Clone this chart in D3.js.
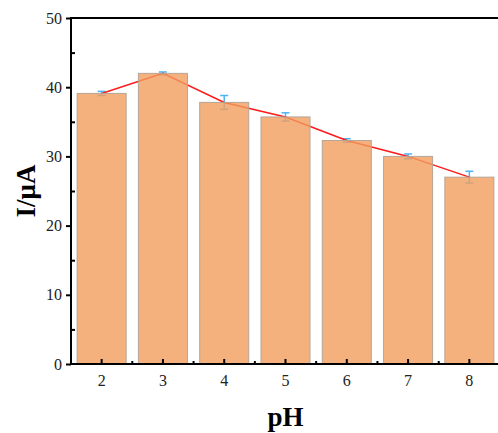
<!DOCTYPE html>
<html><head><meta charset="utf-8">
<script src="https://cdn.jsdelivr.net/npm/d3@7"></script>
<style>body{margin:0;background:#fff}svg{display:block}</style>
</head><body>
<svg id="c" width="498" height="433"></svg>
<script>
const categories = ["2","3","4","5","6","7","8"];
const values = [39.1, 42.0, 37.8, 35.7, 32.3, 30.0, 27.0];
const errors = [0.3, 0.2, 1.0, 0.6, 0.25, 0.35, 0.85];
const yTicks = [0,10,20,30,40,50];

const svg = d3.select("#c");
const m = {l:71, r:500, t:18, b:364};
const x = d3.scaleBand().domain(categories).range([m.l, m.r]).paddingInner(0.2).paddingOuter(0.1);
const xc = d => x(d) + x.bandwidth()/2;
const y = d3.scaleLinear().domain([0,50]).range([m.b, m.t]);
const font = "'Liberation Serif','Times New Roman',serif";

// error bars (drawn beneath bars)
const eb = svg.append("g").attr("stroke","#4db3f5").attr("stroke-width",1.5);
categories.forEach((c,i)=>{
  const cx = xc(c);
  eb.append("line").attr("x1",cx).attr("x2",cx).attr("y1",y(values[i]+errors[i])).attr("y2",y(values[i]-errors[i]));
  eb.append("line").attr("x1",cx-4).attr("x2",cx+4).attr("y1",y(values[i]+errors[i])).attr("y2",y(values[i]+errors[i]));
  eb.append("line").attr("x1",cx-4).attr("x2",cx+4).attr("y1",y(values[i]-errors[i])).attr("y2",y(values[i]-errors[i]));
});
// line
svg.append("path").datum(values)
  .attr("fill","none").attr("stroke","#ff1a1a").attr("stroke-width",1.5)
  .attr("d", d3.line().x((d,i)=>xc(categories[i])).y(d=>y(d)));
// bars
svg.append("g").selectAll("rect").data(values).join("rect")
  .attr("x",(d,i)=>x(categories[i])).attr("width",x.bandwidth())
  .attr("y",d=>y(d)).attr("height",d=>y(0)-y(d))
  .attr("fill","rgb(241,158,94)").attr("fill-opacity",0.8)
  .attr("stroke","#b5a595").attr("stroke-width",1);

// axes
const ax = svg.append("g").attr("stroke","#000").attr("stroke-width",2);
ax.append("line").attr("x1",m.l).attr("x2",m.r).attr("y1",m.b).attr("y2",m.b);
ax.append("line").attr("x1",m.l).attr("x2",m.r).attr("y1",m.t).attr("y2",m.t);
ax.append("line").attr("x1",m.l).attr("x2",m.l).attr("y1",m.t-1).attr("y2",m.b+1);
ax.append("line").attr("x1",m.r).attr("x2",m.r).attr("y1",m.t-1).attr("y2",m.b+1);

// y axis
const yAxis = d3.axisLeft(y).tickValues(yTicks).tickSize(5).tickPadding(4);
const gy = svg.append("g").attr("transform",`translate(${m.l},0)`).call(yAxis);
gy.select(".domain").remove();
gy.selectAll(".tick line").attr("stroke","#000").attr("stroke-width",2);
gy.selectAll(".tick text").attr("font-family",font).attr("font-size",16).attr("fill","#222");
const yMinor = d3.axisRight(y).tickValues([5,15,25,35,45]).tickSize(4).tickFormat("");
const gym = svg.append("g").attr("transform",`translate(${m.l},0)`).call(yMinor);
gym.select(".domain").remove();
gym.selectAll(".tick line").attr("stroke","#000").attr("stroke-width",2);

// x axis
const xAxis = d3.axisBottom(x).tickSize(-5).tickPadding(11);
const gx = svg.append("g").attr("transform",`translate(0,${m.b})`).call(xAxis);
gx.select(".domain").remove();
gx.selectAll(".tick line").attr("stroke","#000").attr("stroke-width",2);
gx.selectAll(".tick text").attr("font-family",font).attr("font-size",16).attr("fill","#222");
// minor x ticks at band boundaries
const bounds = categories.slice(1).map(c => x(c) - x.step()*x.paddingInner()/2);
svg.append("g").selectAll("line").data(bounds).join("line")
  .attr("x1",d=>d).attr("x2",d=>d).attr("y1",m.b).attr("y2",m.b-3)
  .attr("stroke","#000").attr("stroke-width",2);

// titles
svg.append("text").attr("x",(m.l+m.r)/2).attr("y",426).attr("text-anchor","middle")
  .attr("font-family",font).attr("font-weight","bold").attr("font-size",27).text("pH");
svg.append("text").attr("transform","translate(35,191) rotate(-90)").attr("text-anchor","middle")
  .attr("font-family",font).attr("font-weight","bold").attr("font-size",27).text("I/μA");
</script>
</body></html>
